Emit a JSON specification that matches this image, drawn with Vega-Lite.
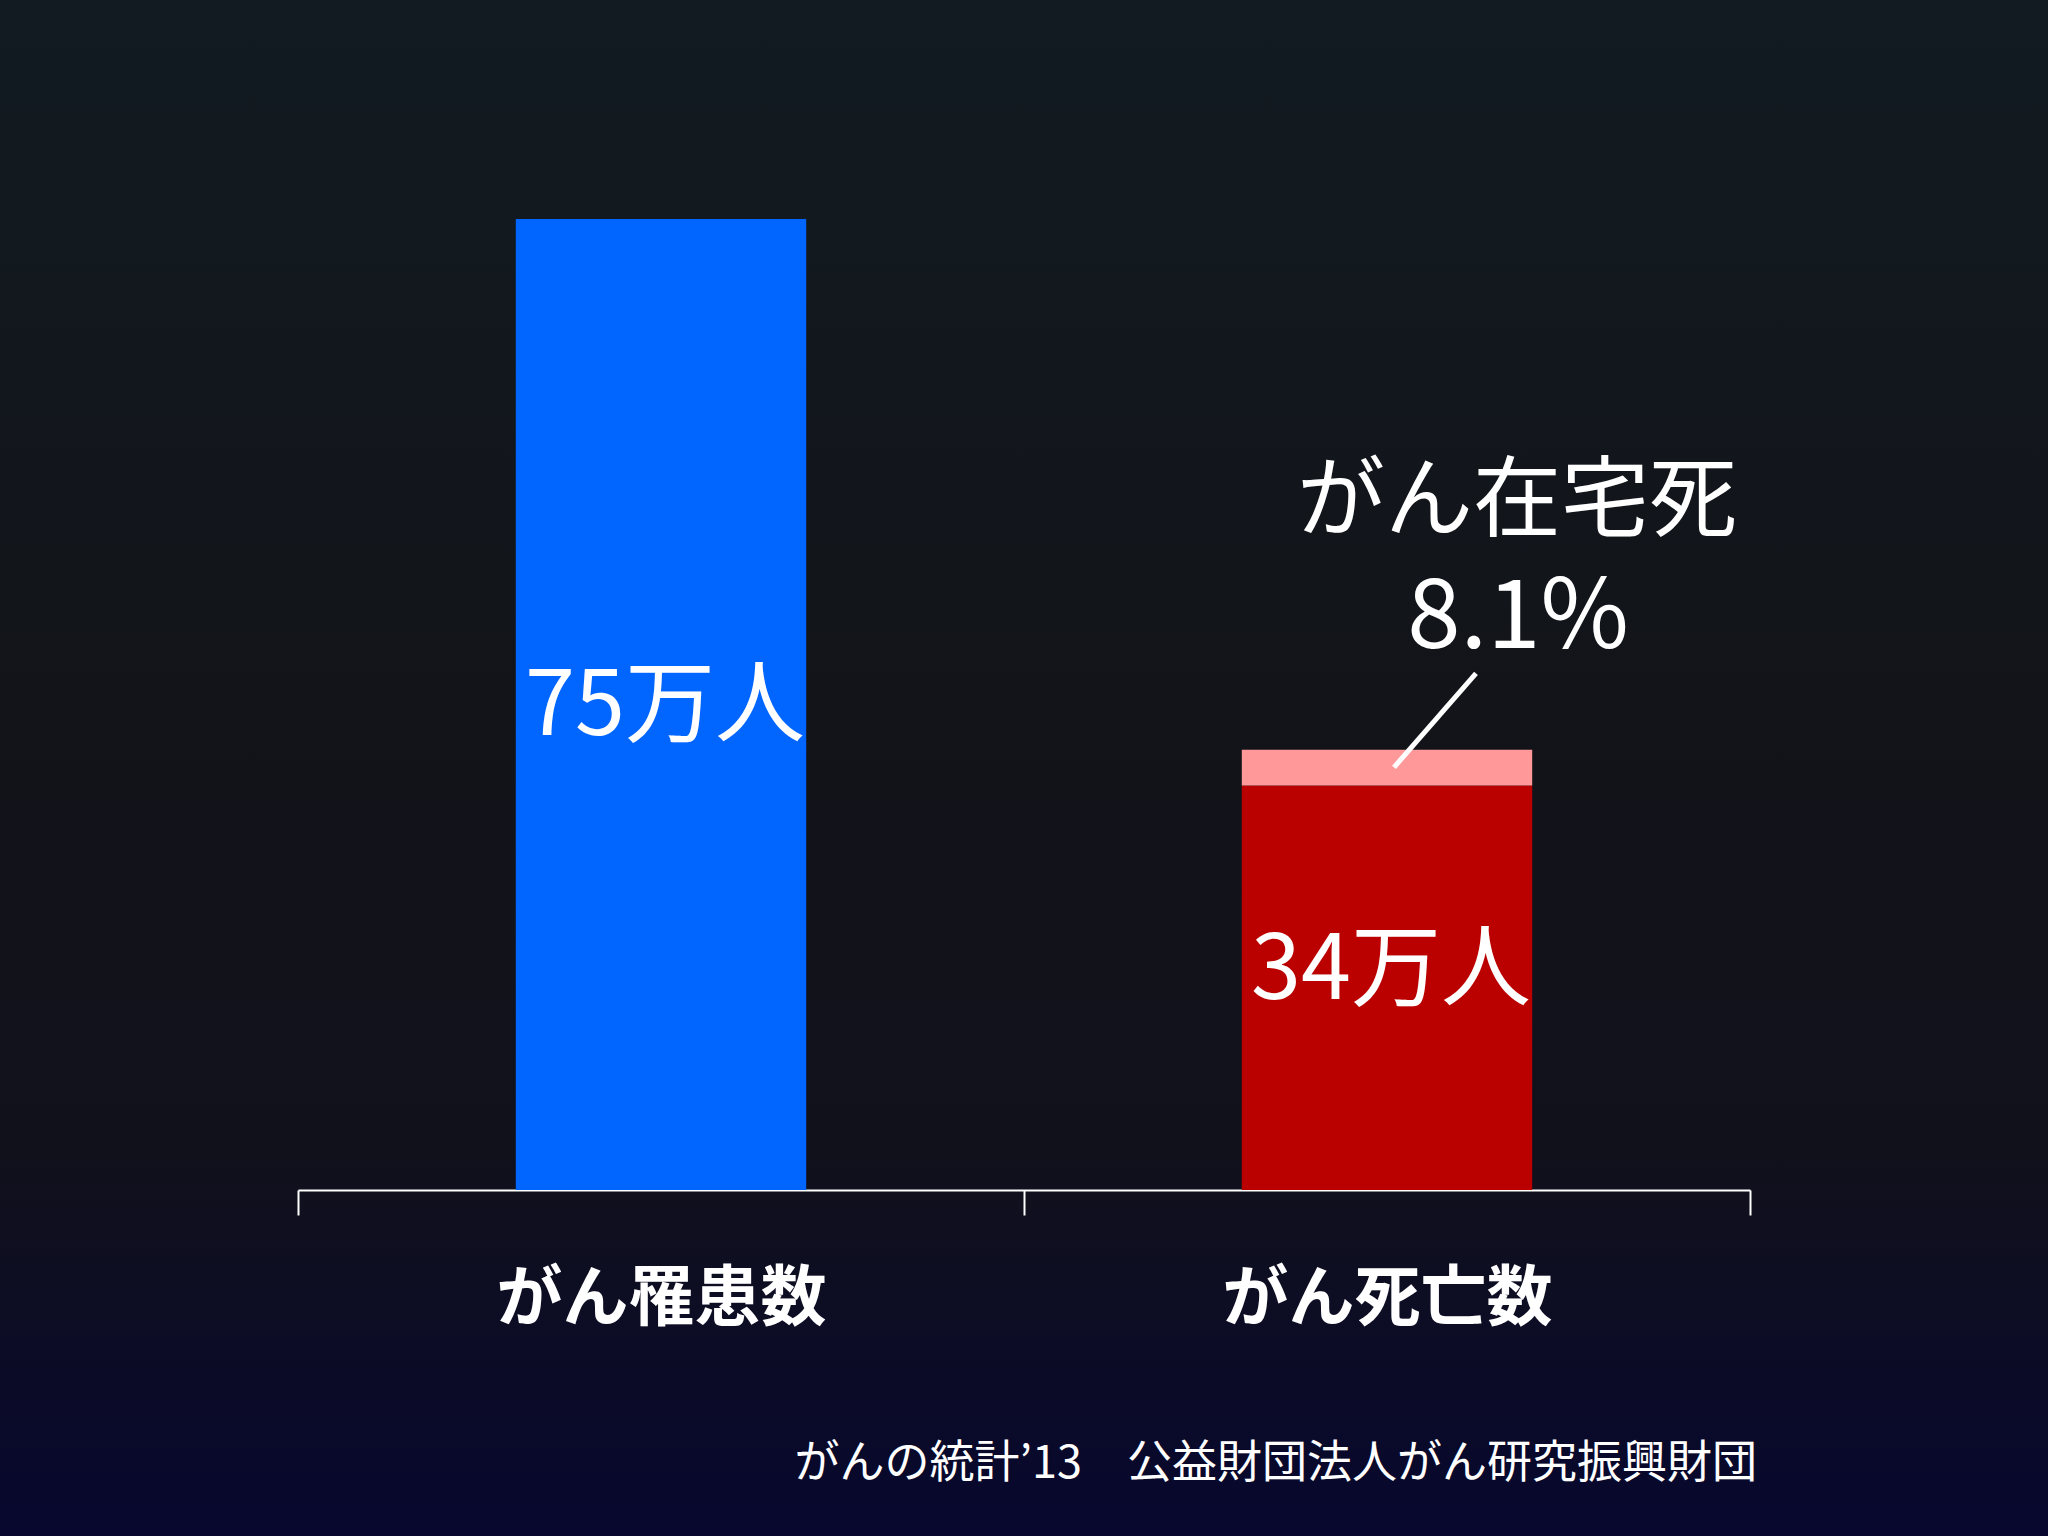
{
  "$schema": "https://vega.github.io/schema/vega-lite/v6.json",
  "width": 2048,
  "height": 1536,
  "autosize": {"type": "none"},
  "padding": 0,
  "background": "#111418",
  "config": {
    "font": "Noto Sans CJK JP",
    "view": {
      "stroke": null,
      "fill": {
        "gradient": "linear",
        "x1": 0, "y1": 0, "x2": 0, "y2": 1,
        "stops": [
          {"offset": 0, "color": "#121b22"},
          {"offset": 0.45, "color": "#121419"},
          {"offset": 0.75, "color": "#11111c"},
          {"offset": 1, "color": "#07072f"}
        ]
      }
    }
  },
  "datasets": {
    "bars": [
      {"cat": "がん罹患数", "part": "罹患", "seq": 1, "value": 75},
      {"cat": "がん死亡数", "part": "死亡", "seq": 1, "value": 31.25},
      {"cat": "がん死亡数", "part": "在宅死", "seq": 2, "value": 2.75}
    ],
    "labels": [
      {"cat": "がん罹患数", "label": "75万人", "pos": 37.2},
      {"cat": "がん死亡数", "label": "34万人", "pos": 16.8}
    ],
    "notes": [
      {"cat": "がん死亡数", "label": "がん在宅死", "pos": 53.1}
    ],
    "pct": [
      {"cat": "がん死亡数", "label": "8.1%", "pos": 44.1}
    ],
    "leader": [
      {"cat": "がん死亡数", "from": 39.9, "to": 32.65}
    ],
    "source": [
      {"cat": "がん死亡数", "label": "がんの統計’13　公益財団法人がん研究振興財団", "pos": -21.2}
    ]
  },
  "layer": [
    {
      "data": {"name": "bars"},
      "mark": {"type": "bar", "width": {"band": 0.4}},
      "encoding": {
        "x": {
          "field": "cat", "type": "nominal", "sort": null,
          "scale": {"domain": ["がん罹患数", "がん死亡数"], "range": [298, 1750], "paddingInner": 0, "paddingOuter": 0},
          "axis": {
            "title": null, "orient": "bottom", "offset": -346,
            "domainColor": "white", "domainWidth": 2,
            "tickColor": "white", "tickWidth": 2, "tickSize": 25, "tickBand": "extent",
            "labelColor": "white", "labelFontSize": 66, "labelFontWeight": "bold",
            "labelPadding": 52, "labelAngle": 0, "labelLimit": 0, "labelFont": "Noto Sans CJK JP"
          }
        },
        "y": {
          "field": "value", "type": "quantitative", "stack": "zero",
          "scale": {"domain": [0, 75], "range": [1190, 219], "nice": false, "zero": true},
          "axis": null
        },
        "color": {
          "field": "part", "type": "nominal",
          "scale": {"domain": ["罹患", "死亡", "在宅死"], "range": ["#0066ff", "#bb0000", "#ff9999"]},
          "legend": null
        },
        "order": {"field": "seq", "type": "quantitative"}
      }
    },
    {
      "data": {"name": "labels"},
      "mark": {"type": "text", "fontSize": 90, "color": "white", "baseline": "middle", "align": "center", "dx": 4},
      "encoding": {
        "x": {"field": "cat", "type": "nominal"},
        "y": {"field": "pos", "type": "quantitative"},
        "text": {"field": "label"}
      }
    },
    {
      "data": {"name": "notes"},
      "mark": {"type": "text", "fontSize": 88, "color": "white", "baseline": "middle", "align": "center", "dx": 130},
      "encoding": {
        "x": {"field": "cat", "type": "nominal"},
        "y": {"field": "pos", "type": "quantitative"},
        "text": {"field": "label"}
      }
    },
    {
      "data": {"name": "pct"},
      "mark": {"type": "text", "fontSize": 96, "color": "white", "baseline": "middle", "align": "center", "dx": 131},
      "encoding": {
        "x": {"field": "cat", "type": "nominal"},
        "y": {"field": "pos", "type": "quantitative"},
        "text": {"field": "label"}
      }
    },
    {
      "data": {"name": "leader"},
      "mark": {"type": "rule", "color": "white", "strokeWidth": 5, "xOffset": 89, "x2Offset": 7},
      "encoding": {
        "x": {"field": "cat", "type": "nominal"},
        "x2": {"field": "cat"},
        "y": {"field": "from", "type": "quantitative"},
        "y2": {"field": "to"}
      }
    },
    {
      "data": {"name": "source"},
      "mark": {"type": "text", "fontSize": 45, "color": "white", "baseline": "middle", "align": "right", "dx": 370},
      "encoding": {
        "x": {"field": "cat", "type": "nominal"},
        "y": {"field": "pos", "type": "quantitative"},
        "text": {"field": "label"}
      }
    }
  ]
}
